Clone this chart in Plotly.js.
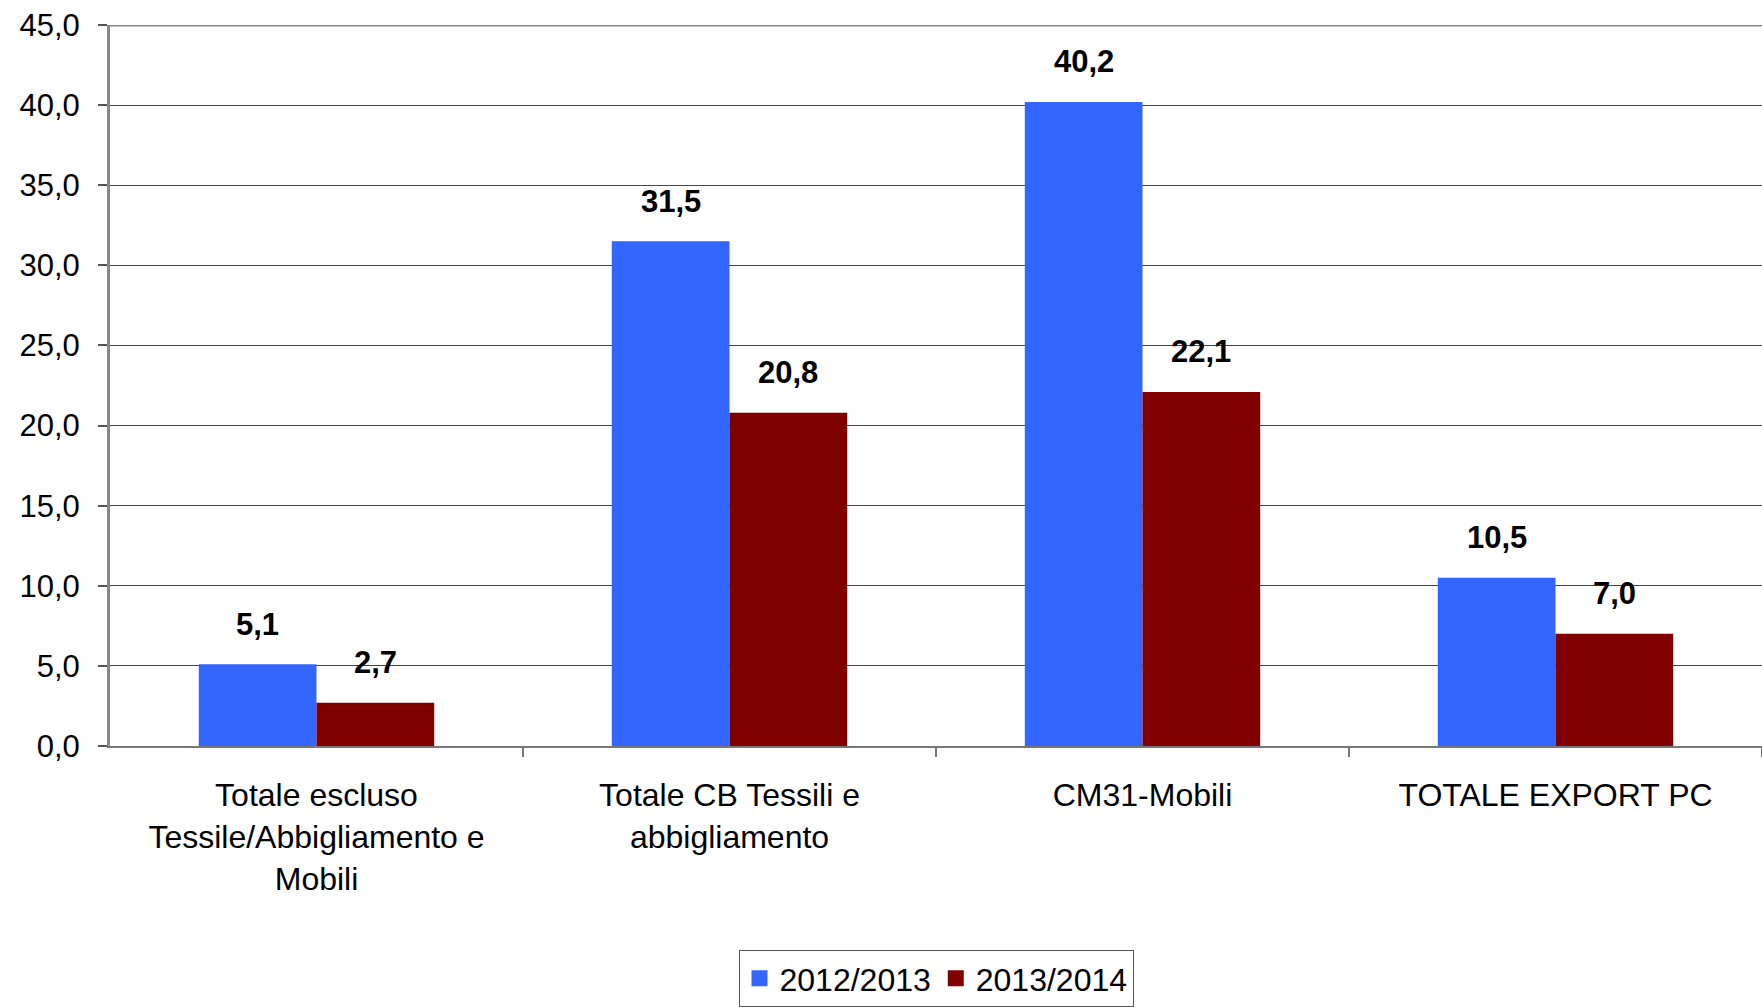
<!DOCTYPE html>
<html>
<head>
<meta charset="utf-8">
<script src="https://cdn.plot.ly/plotly-3.0.1.min.js"></script>
<style>html,body{margin:0;padding:0;background:#fff;}#chart{width:1762px;height:1007px;}</style>
</head>
<body>
<div id="chart"></div>
<script>
var categories = [
  "Totale escluso<br>Tessile/Abbigliamento e<br>Mobili",
  "Totale CB Tessili e<br>abbigliamento",
  "CM31-Mobili",
  "TOTALE EXPORT PC"
];
var seriesNames = ["2012/2013", "2013/2014"];
var values2012_2013 = [5.1, 31.5, 40.2, 10.5];
var values2013_2014 = [2.7, 20.8, 22.1, 7.0];
var colors = ["#3366FF", "#800000"];

var W = 1762, H = 1007;
var margin = {l: 110, r: 0, t: 25, b: 260};
var bargap = 0.43;
var plotW = W - margin.l - margin.r;
var catW = plotW / categories.length;
var barW = catW * (1 - bargap) / 2;

var font = "'Liberation Sans', Arial, sans-serif";
var xIdx = categories.map(function(_, i){ return i; });

var seriesVals = [values2012_2013, values2013_2014];
var traces = [];
seriesVals.forEach(function(vals, s){
  traces.push({
    type: "bar",
    x: xIdx,
    y: vals,
    name: seriesNames[s],
    marker: {color: colors[s], line: {width: 0}},
    showlegend: false,
    hoverinfo: "skip"
  });
});
seriesVals.forEach(function(vals, s){
  traces.push({
    type: "scatter",
    mode: "markers",
    x: [null],
    y: [null],
    name: seriesNames[s],
    marker: {color: colors[s], symbol: "square", size: 21},
    showlegend: true,
    hoverinfo: "skip"
  });
});

var annotations = [];
seriesVals.forEach(function(vals, s){
  vals.forEach(function(v, i){
    annotations.push({
      x: i, y: v, xref: "x", yref: "y",
      text: v.toFixed(1).replace(".", ","),
      showarrow: false,
      xshift: (s === 0 ? -1 : 1) * barW / 2,
      yshift: 40,
      yanchor: "middle",
      font: {family: font, size: 31, color: "#000", weight: "bold"}
    });
  });
});

var layout = {
  width: W, height: H,
  margin: margin,
  paper_bgcolor: "#fff",
  plot_bgcolor: "#fff",
  separators: ",.",
  font: {family: font, color: "#000"},
  barmode: "group",
  bargap: bargap,
  bargroupgap: 0,
  showlegend: true,
  legend: {
    orientation: "h",
    x: 0.5, xanchor: "center",
    y: -0.2825, yanchor: "top",
    bordercolor: "#555",
    borderwidth: 1,
    font: {family: font, size: 32, color: "#000"},
    itemsizing: "trace",
    itemwidth: 30,
    tracegroupgap: 0
  },
  xaxis: {
    type: "linear",
    range: [-0.5, categories.length - 0.5],
    tickmode: "array",
    tickvals: xIdx,
    ticktext: categories,
    showgrid: false,
    zeroline: false,
    showline: true,
    linecolor: "#777",
    linewidth: 2,
    mirror: false,
    ticks: "",
    tickfont: {family: font, size: 32, color: "#000"},
    ticklabelstandoff: 20,
    minor: {tickmode: "array", tickvals: [0.5, 1.5, 2.5, 3.5], ticks: "outside", ticklen: 9, tickcolor: "#777", tickwidth: 2, showgrid: false}
  },
  yaxis: {
    range: [0, 45],
    dtick: 5,
    tick0: 0,
    tickformat: ".1f",
    showgrid: true,
    gridcolor: "#444",
    gridwidth: 1,
    zeroline: false,
    showline: true,
    linecolor: "#888",
    linewidth: 3,
    ticks: "outside",
    ticklen: 9,
    tickcolor: "#555",
    tickwidth: 2,
    tickfont: {family: font, size: 31, color: "#000"},
    ticklabelstandoff: 12
  },
  shapes: [
    {type: "line", xref: "paper", yref: "y", x0: 0, x1: 1, y0: 45, y1: 45, line: {color: "#888", width: 3}}
  ],
  annotations: annotations
};

Plotly.newPlot("chart", traces, layout, {displayModeBar: false, staticPlot: true});
</script>
</body>
</html>
